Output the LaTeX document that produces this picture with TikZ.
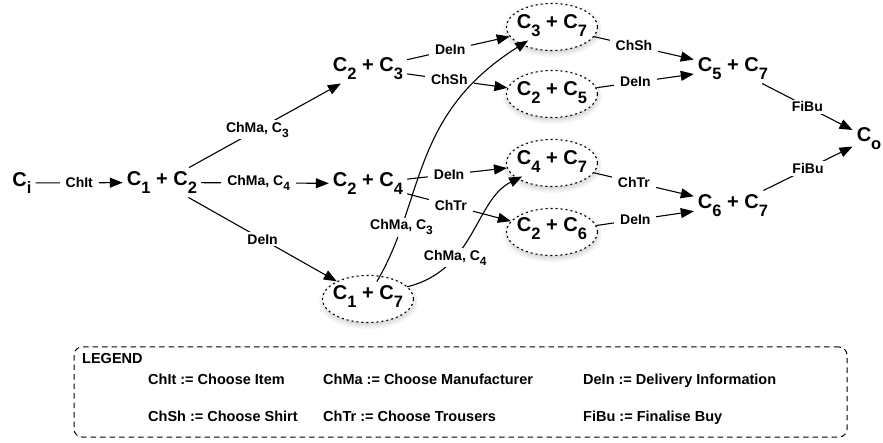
\documentclass[tikz,border=0pt]{standalone}
\usepackage{fontspec}
\setmainfont{Liberation Sans}
\usetikzlibrary{arrows.meta,shapes.geometric,shadows.blur}

% lowered subscripts for state names and edge labels
\newcommand\ssub[1]{\raisebox{-7.5pt}{\fontsize{16.5}{16.5}\selectfont #1}}
\newcommand\lsub[1]{\raisebox{-5pt}{\fontsize{12}{12}\selectfont #1}}
\newcommand\pair[2]{C\ssub{#1} + C\ssub{#2}}

\tikzset{
  state/.style={font=\fontsize{20}{23}\selectfont\bfseries, inner sep=4pt},
  ring/.style={ellipse, draw, line width=1.1pt, dash pattern=on 2pt off 3pt,
    minimum width=91pt, minimum height=47pt, inner sep=0pt, fill=white,
    blur shadow={shadow xshift=0.5pt, shadow yshift=-2.5pt, shadow opacity=22,
      shadow blur radius=5pt, shadow blur steps=10}},
  lbl/.style={font=\fontsize{14}{16}\selectfont\bfseries, fill=white,
    inner xsep=6pt, inner ysep=2pt},
  edge/.style={line width=1.1pt, -{Triangle[length=13pt,width=10pt]}},
  legendbox/.style={draw, line width=1pt, dash pattern=on 5.5pt off 4pt,
    rounded corners=8pt, inner sep=0pt},
  legtext/.style={font=\fontsize{14.5}{16}\selectfont\bfseries, inner sep=0pt,
    anchor=base west}
}

\begin{document}
\begin{tikzpicture}[x=1pt,y=-1pt]
\useasboundingbox (0,0) rectangle (883,443);

% plain states
\node[state] (ci)  at (22,183)    {C\ssub{i}};
\node[state] (c12) at (162,182.5) {\pair{1}{2}};
\node[state] (c23) at (368,68.5)  {\pair{2}{3}};
\node[state] (c24) at (368,183.5) {\pair{2}{4}};
\node[state] (c57) at (733,68.5)  {\pair{5}{7}};
\node[state] (c67) at (733,205.5) {\pair{6}{7}};
\node[state] (co)  at (869,138.5) {C\ssub{o}};

% states inside dotted rings
\node[ring]  (c37) at (552,27)  {};
\node[state] (t37) at (552,25.5) {\pair{3}{7}};
\node[ring]  (c25) at (552,94)  {};
\node[state] (t25) at (552,92.5) {\pair{2}{5}};
\node[ring]  (c47) at (552,163) {};
\node[state] (t47) at (552,161.5) {\pair{4}{7}};
\node[ring]  (c26) at (552,232) {};
\node[state] (t26) at (552,228.5) {\pair{2}{6}};
\node[ring]  (c17) at (368,299) {};
\node[state] (t17) at (368,296.5) {\pair{1}{7}};

% straight transitions
\draw[edge] (ci)  -- node[lbl] {ChIt} (c12);
\draw[edge] (c12) -- node[lbl,pos=0.45] {ChMa, C\lsub{3}} (c23);
\draw[edge] (c12) -- node[lbl,pos=0.45] {ChMa, C\lsub{4}} (c24);
\draw[edge] (c12) -- node[lbl] {DeIn} (c17);
\draw[edge] (c23) -- node[lbl,pos=0.42] {DeIn} (c37);
\draw[edge] (c23) -- node[lbl,pos=0.42] {ChSh} (c25);
\draw[edge] (c24) -- node[lbl,pos=0.42] {DeIn} (c47);
\draw[edge] (c24) -- node[lbl,pos=0.42] {ChTr} (c26);
\draw[edge] (c37) -- node[lbl,pos=0.4] {ChSh} (c57);
\draw[edge] (c25) -- node[lbl,pos=0.4] {DeIn} (c57);
\draw[edge] (c47) -- node[lbl,pos=0.4] {ChTr} (c67);
\draw[edge] (c26) -- node[lbl,pos=0.4] {DeIn} (c67);
\draw[edge] (c57) -- node[lbl] {FiBu} (co);
\draw[edge] (c67) -- node[lbl] {FiBu} (co);

% curved transitions out of C1 + C7
\draw[edge] (t17) .. controls (425,200) and (410,115) ..
  node[lbl,pos=0.22] {ChMa, C\lsub{3}} (t37);
\draw[edge] (t17) .. controls (475,270) and (475,200) ..
  node[lbl,pos=0.32] {ChMa, C\lsub{4}} (t47);

% legend
\node[legendbox, minimum width=773pt, minimum height=90pt] (legend) at (460.5,392) {};
\node[legtext] (lgtitle) at (82,363) {LEGEND};
\node[legtext] (lg1) at (148,384) {ChIt := Choose Item};
\node[legtext] (lg2) at (323,384) {ChMa := Choose Manufacturer};
\node[legtext] (lg3) at (583,384) {DeIn := Delivery Information};
\node[legtext] (lg4) at (148,421) {ChSh := Choose Shirt};
\node[legtext] (lg5) at (323,421) {ChTr := Choose Trousers};
\node[legtext] (lg6) at (583,421) {FiBu := Finalise Buy};
\end{tikzpicture}
\end{document}
